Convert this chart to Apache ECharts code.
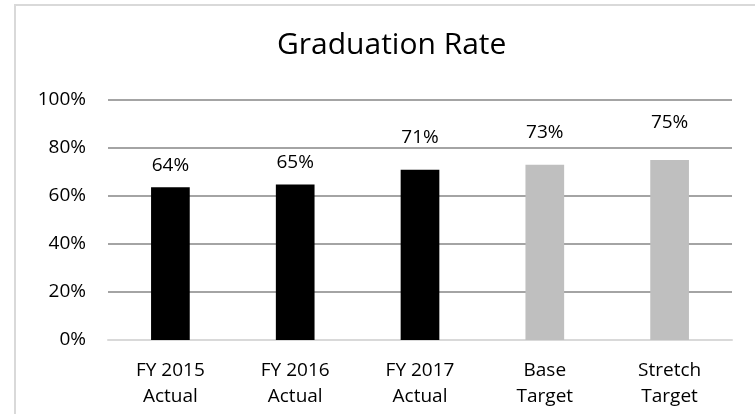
<!DOCTYPE html>
<html>
<head>
<meta charset="utf-8">
<script src="https://cdn.jsdelivr.net/npm/echarts@6/dist/echarts.min.js"></script>
<style>
    html, body { margin: 0; padding: 0; background: #fff; }
    #chart { width: 755px; height: 414px; }
</style>
</head>
<body>
<div id="chart"></div>
<script>
// categories and values
var categories = ['FY 2015\nActual', 'FY 2016\nActual', 'FY 2017\nActual', 'Base\nTarget', 'Stretch\nTarget'];
var rates = [63.6, 64.8, 70.9, 73, 75];
var yTicks = [0, 20, 40, 60, 80, 100];

// styling per bar (actuals black, targets gray) and label gaps as in the original
var barColors = ['#000000', '#000000', '#000000', '#BFBFBF', '#BFBFBF'];
var labelGaps = [12, 12, 23, 23, 28];

var font = '"Open Sans", "Noto Sans", sans-serif';

var myChart = echarts.init(document.getElementById('chart'));

var option = {
    animation: false,
    backgroundColor: '#fff',
    // outer chart frame (left and top edge visible)
    graphic: [{
        type: 'rect',
        shape: { x: 15, y: 5, width: 800, height: 500 },
        style: { fill: 'none', stroke: '#D9D9D9', lineWidth: 2 },
        silent: true
    }],
    title: {
        text: 'Graduation Rate',
        left: 272,
        top: 25,
        textStyle: {
            fontFamily: font,
            fontSize: 30,
            fontWeight: 'normal',
            color: '#000'
        }
    },
    grid: {
        left: 108,
        right: 23,
        top: 100,
        bottom: 74
    },
    xAxis: {
        type: 'category',
        data: categories,
        axisLine: { lineStyle: { color: '#D9D9D9', width: 2 } },
        axisTick: { show: false },
        axisLabel: {
            margin: 18,
            fontFamily: font,
            fontSize: 19,
            lineHeight: 26,
            color: '#000'
        }
    },
    yAxis: {
        type: 'value',
        min: yTicks[0],
        max: yTicks[yTicks.length - 1],
        interval: yTicks[1] - yTicks[0],
        axisLine: { show: false },
        axisTick: { show: false },
        splitLine: { lineStyle: { color: '#868686', width: 1.5 } },
        axisLabel: {
            margin: 22,
            padding: [7, 0, 0, 0],
            fontFamily: font,
            fontSize: 19,
            color: '#000',
            formatter: function (v) { return v + '%'; }
        }
    },
    series: [{
        type: 'bar',
        barWidth: '31%',
        data: rates.map(function (v, i) {
            return {
                value: v,
                itemStyle: { color: barColors[i] },
                label: { distance: labelGaps[i] }
            };
        }),
        label: {
            show: true,
            position: 'top',
            fontFamily: font,
            fontSize: 19,
            color: '#000',
            formatter: function (p) { return Math.round(p.value) + '%'; }
        }
    }]
};

myChart.setOption(option);
</script>
</body>
</html>
